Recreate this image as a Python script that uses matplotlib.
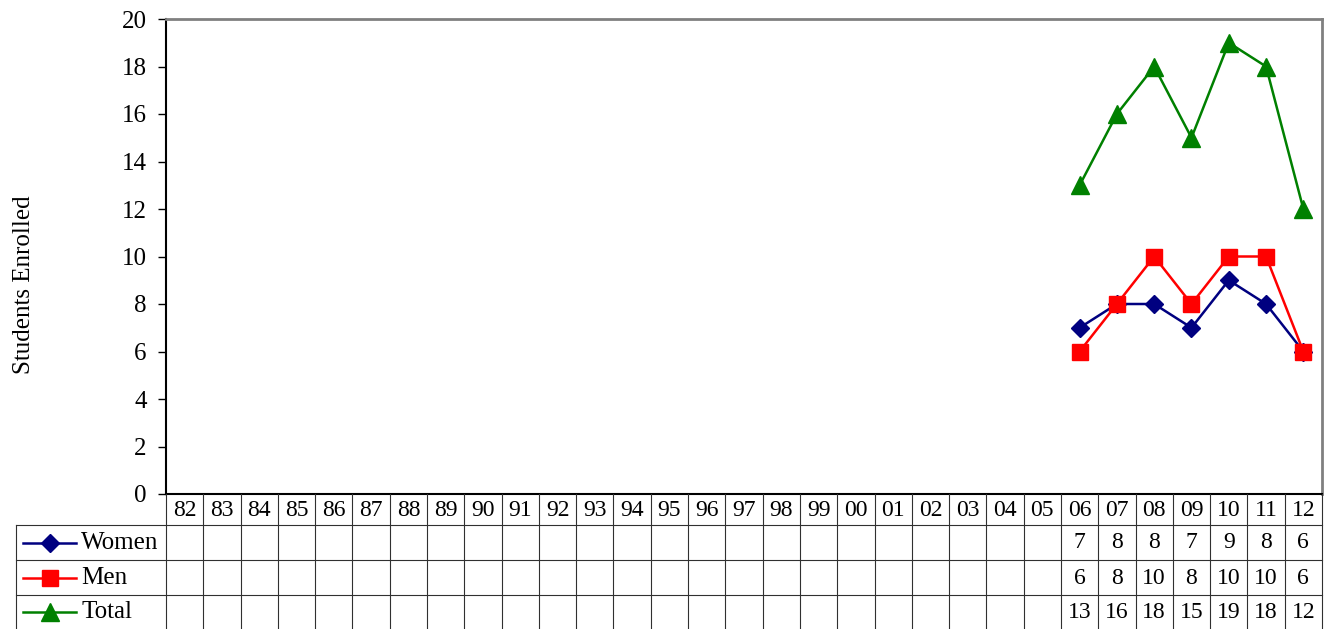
import numpy as np
import matplotlib.pyplot as plt
import matplotlib.transforms as mtransforms
from matplotlib.lines import Line2D

plt.rcParams['font.family'] = ['Liberation Serif', 'DejaVu Serif']

years = ['82', '83', '84', '85', '86', '87', '88', '89', '90', '91', '92',
         '93', '94', '95', '96', '97', '98', '99', '00', '01', '02', '03',
         '04', '05', '06', '07', '08', '09', '10', '11', '12']
women = [None] * 24 + [7, 8, 8, 7, 9, 8, 6]
men = [None] * 24 + [6, 8, 10, 8, 10, 10, 6]
total = [None] * 24 + [13, 16, 18, 15, 19, 18, 12]

series = [
    ('Women', women, '#000080', 'D', 9),
    ('Men', men, '#ff0000', 's', 11),
    ('Total', total, '#008000', '^', 12.5),
]

W, H = 1325, 629
fig = plt.figure(figsize=(W / 100, H / 100), dpi=100)
ax = fig.add_axes([166 / W, 1 - 494 / H, (1322 - 166) / W, (494 - 19) / H])

x = np.arange(len(years))
for name, vals, color, mk, ms in series:
    y = np.array([np.nan if v is None else v for v in vals], dtype=float)
    ax.plot(x, y, color=color, lw=1.8, marker=mk, markersize=ms, clip_on=False)

ax.set_xlim(-0.5, len(years) - 0.5)
ax.set_ylim(0, 20)
ax.set_yticks(range(0, 21, 2))
ax.set_xticks([])
ax.tick_params(axis='y', length=6, width=1, labelsize=18, pad=8)
ax.set_ylabel('Students Enrolled', fontsize=18)
ax.yaxis.set_label_coords(-0.113, 0.44)
for s in ['top', 'right']:
    ax.spines[s].set_color('#808080')
    ax.spines[s].set_linewidth(2)
for s in ['left', 'bottom']:
    ax.spines[s].set_color('black')
    ax.spines[s].set_linewidth(1.5)

# data table under the axis
def fy(py):
    return 1 - py / H

tr = mtransforms.blended_transform_factory(ax.transData, fig.transFigure)
lc = '#303030'
for py in [525, 560, 595]:
    fig.add_artist(Line2D([16 / W, 1322 / W], [fy(py), fy(py)],
                          transform=fig.transFigure, color=lc, lw=0.8))
fig.add_artist(Line2D([16 / W, 16 / W], [fy(525), fy(629)],
                      transform=fig.transFigure, color=lc, lw=0.8))
for i in range(len(years) + 1):
    xb = i - 0.5
    fig.add_artist(Line2D([xb, xb], [fy(494), fy(629)], transform=tr,
                          color=lc, lw=0.8))

fs = 17
for i, lab in enumerate(years):
    fig.text(i, fy(511), lab, transform=tr, ha='center', va='center', fontsize=fs)

row_centers = [543, 578, 612]
for (name, vals, color, mk, ms), py in zip(series, row_centers):
    fig.add_artist(Line2D([23 / W, 76 / W], [fy(py), fy(py)],
                          transform=fig.transFigure, color=color, lw=1.8))
    fig.add_artist(Line2D([49.5 / W], [fy(py)], transform=fig.transFigure,
                          color=color, marker=mk, markersize=ms, lw=0))
    fig.text(81 / W, fy(py), name, ha='left', va='center', fontsize=fs + 1)
    for i, v in enumerate(vals):
        if v is not None:
            fig.text(i, fy(py), str(v), transform=tr, ha='center',
                     va='center', fontsize=fs)

fig.savefig('out.png', dpi=100)
